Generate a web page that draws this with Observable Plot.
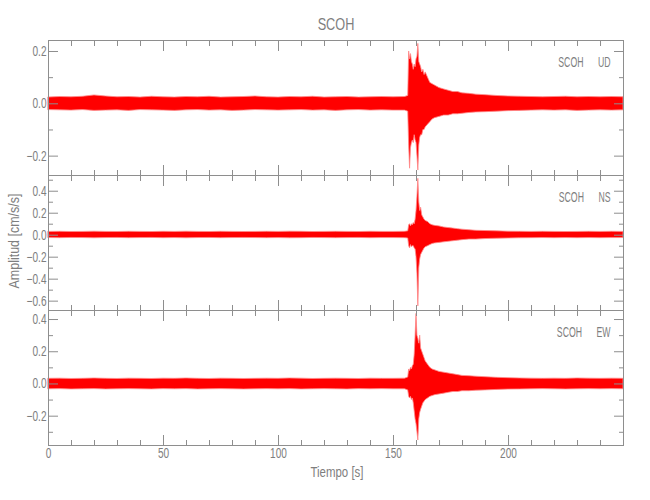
<!DOCTYPE html>
<html><head><meta charset="utf-8">
<script src="https://cdn.jsdelivr.net/npm/d3@7"></script>
<script src="https://cdn.jsdelivr.net/npm/@observablehq/plot@0.6"></script>
<style>
body{margin:0;background:#fff;}
#wrap{position:relative;width:650px;height:500px;overflow:hidden;font-family:"Liberation Sans",Arial,sans-serif;color:#7e7e7e;}
#wrap svg{position:absolute;left:0;top:0;}
.lbl{position:absolute;white-space:nowrap;line-height:1;}
</style></head><body><div id="wrap"></div>
<script>
// ---- data (envelope of the records) ----
const station = "SCOH";
const components = ["UD", "NS", "EW"];
const T = [0,5,10,15,20,25,30,35,40,45,50,55,60,65,70,75,80,85,90,95,100,105,110,115,120,125,130,135,140,145,150,
155,156.4,156.8,157.2,157.6,158,158.4,158.8,159.2,159.6,160,160.4,160.8,161.2,161.6,162,
162.5,163,163.5,164,165,166,167,168,170,172,174,176,178,180,183,186,190,195,
200,205,210,215,220,225,230,235,240,245,249.99];

const UD_hi = [0.024,0.026,0.025,0.027,0.032,0.028,0.025,0.026,0.024,0.027,0.025,0.024,0.026,0.025,0.027,0.024,0.025,0.026,0.028,0.025,0.024,0.026,0.025,0.027,0.024,0.025,0.026,0.024,0.025,0.026,0.025,
0.026,
0.03,0.20,0.17,0.19,0.16,0.15,0.13,0.15,0.14,0.17,0.18,0.229,0.16,0.15,0.14,
0.12,0.13,0.11,0.12,0.10,0.08,0.075,0.07,0.06,0.055,0.05,0.045,0.045,0.04,0.038,0.035,0.033,0.03,
0.028,0.027,0.026,0.025,0.026,0.027,0.025,0.026,0.025,0.026,0.025];
const UD_lo = [-0.024,-0.025,-0.026,-0.024,-0.027,-0.026,-0.025,-0.027,-0.024,-0.025,-0.026,-0.027,-0.025,-0.024,-0.026,-0.025,-0.027,-0.026,-0.024,-0.025,-0.026,-0.025,-0.024,-0.026,-0.025,-0.027,-0.025,-0.024,-0.026,-0.025,-0.026,
-0.026,
-0.03,-0.16,-0.248,-0.17,-0.15,-0.14,-0.15,-0.12,-0.14,-0.15,-0.20,-0.255,-0.16,-0.13,-0.12,
-0.12,-0.10,-0.10,-0.09,-0.08,-0.07,-0.06,-0.055,-0.05,-0.045,-0.045,-0.04,-0.04,-0.038,-0.035,-0.033,-0.032,-0.03,
-0.028,-0.027,-0.026,-0.025,-0.026,-0.025,-0.027,-0.026,-0.025,-0.026,-0.025];

const NS_hi = [0.030,0.031,0.029,0.030,0.032,0.030,0.029,0.031,0.030,0.029,0.031,0.030,0.032,0.030,0.029,0.031,0.030,0.029,0.030,0.031,0.030,0.032,0.031,0.029,0.030,0.031,0.030,0.029,0.031,0.030,0.030,
0.031,
0.035,0.09,0.10,0.08,0.10,0.09,0.11,0.10,0.14,0.22,0.35,0.513,0.30,0.22,0.25,
0.18,0.16,0.14,0.13,0.12,0.10,0.09,0.085,0.08,0.07,0.065,0.06,0.055,0.05,0.045,0.04,0.038,0.035,
0.032,0.031,0.030,0.031,0.030,0.029,0.030,0.031,0.030,0.031,0.030];
const NS_lo = [-0.026,-0.027,-0.025,-0.026,-0.028,-0.026,-0.025,-0.027,-0.026,-0.025,-0.027,-0.026,-0.028,-0.026,-0.025,-0.027,-0.026,-0.025,-0.026,-0.027,-0.026,-0.028,-0.027,-0.025,-0.026,-0.027,-0.026,-0.025,-0.027,-0.026,-0.026,
-0.027,
-0.03,-0.10,-0.12,-0.09,-0.11,-0.10,-0.10,-0.12,-0.13,-0.20,-0.35,-0.648,-0.30,-0.22,-0.18,
-0.16,-0.14,-0.12,-0.11,-0.10,-0.09,-0.08,-0.075,-0.07,-0.065,-0.06,-0.055,-0.05,-0.045,-0.04,-0.04,-0.035,-0.032,
-0.03,-0.028,-0.027,-0.026,-0.027,-0.026,-0.027,-0.026,-0.027,-0.026,-0.026];

const EW_hi = [0.032,0.033,0.031,0.032,0.034,0.032,0.031,0.033,0.032,0.031,0.033,0.032,0.034,0.032,0.031,0.033,0.032,0.031,0.032,0.033,0.032,0.034,0.033,0.031,0.032,0.033,0.032,0.031,0.033,0.032,0.032,
0.033,
0.04,0.09,0.08,0.10,0.09,0.11,0.12,0.18,0.30,0.435,0.30,0.28,0.25,0.30,0.22,
0.20,0.18,0.16,0.14,0.12,0.10,0.09,0.085,0.075,0.07,0.065,0.06,0.055,0.05,0.048,0.045,0.042,0.038,
0.036,0.034,0.033,0.032,0.033,0.032,0.034,0.033,0.032,0.033,0.032];
const EW_lo = [-0.033,-0.032,-0.034,-0.033,-0.032,-0.034,-0.033,-0.032,-0.033,-0.034,-0.032,-0.033,-0.032,-0.034,-0.033,-0.032,-0.033,-0.034,-0.033,-0.032,-0.033,-0.032,-0.034,-0.033,-0.032,-0.033,-0.034,-0.032,-0.033,-0.032,-0.033,
-0.033,
-0.04,-0.08,-0.09,-0.08,-0.10,-0.09,-0.12,-0.17,-0.22,-0.25,-0.30,-0.351,-0.22,-0.18,-0.16,
-0.14,-0.12,-0.11,-0.10,-0.09,-0.08,-0.075,-0.07,-0.065,-0.06,-0.055,-0.05,-0.05,-0.045,-0.045,-0.042,-0.04,-0.037,
-0.035,-0.034,-0.033,-0.032,-0.033,-0.034,-0.033,-0.032,-0.033,-0.032,-0.033];

const xDomain = [0, 249.99];
const xMajor = [0, 50, 100, 150, 200];
const xMinor = [10,20,30,40,60,70,80,90,110,120,130,140,160,170,180,190,210,220,230,240];

const UD_domain = [-0.274, 0.242];
const NS_domain = [-0.685, 0.543];
const EW_domain = [-0.382, 0.456];
const UD_major = [-0.2, 0, 0.2], UD_minor = [-0.1, 0.1];
const NS_major = [-0.6, -0.4, -0.2, 0, 0.2, 0.4], NS_minor = [-0.5, -0.3, -0.1, 0.1, 0.3, 0.5];
const EW_major = [-0.2, 0, 0.2, 0.4], EW_minor = [-0.3, -0.1, 0.1, 0.3];

const titleText = "SCOH";
const yLabelText = "Amplitud [cm/s/s]";
const xLabelText = "Tiempo [s]";

// ---- drawing ----
const RED = "#ff0000", PINK = "#ff8a8a", AX = "#8e8e8e", TX = "#7e7e7e";
const FONT = '"Liberation Sans",Arial,sans-serif';
const GAP = "\u00a0\u00a0\u00a0\u00a0\u00a0\u00a0";
const fmt = d => (Math.abs(d) < 1e-9 ? "0.0" : d.toFixed(1).replace("-", "\u2212"));

function rows(hi, lo) { return T.map((t, i) => ({t, hi: hi[i], lo: lo[i]})); }

function panel(o) {
  const marks = [
    Plot.areaY(rows(o.hi, o.lo), {x: "t", y1: "lo", y2: "hi", fill: RED, stroke: PINK, strokeWidth: 0.8}),
    Plot.frame({stroke: AX}),
  ];
  for (const anchor of ["left", "right"]) {
    marks.push(Plot.axisY({anchor, ticks: o.major, tickSize: -10, tickFormat: () => "", stroke: AX, label: null}));
    marks.push(Plot.axisY({anchor, ticks: o.minor, tickSize: -5, tickFormat: () => "", stroke: AX, label: null}));
  }
  for (const anchor of ["top", "bottom"]) {
    marks.push(Plot.axisX({anchor, ticks: xMajor, tickSize: -10, tickFormat: () => "", stroke: AX, label: null}));
    marks.push(Plot.axisX({anchor, ticks: xMinor, tickSize: -5, tickFormat: () => "", stroke: AX, label: null}));
  }
  marks.push(Plot.axisY({anchor: "left", ticks: o.major, tickSize: 0, tickPadding: 2, tickFormat: fmt, fill: TX, fontSize: 14, label: null}));
  if (o.xLabels) marks.push(Plot.axisX({anchor: "bottom", ticks: xMajor, tickSize: 0, tickPadding: 3, tickFormat: d => String(d), fill: TX, fontSize: 14, label: null}));
  marks.push(Plot.text([station + GAP + o.comp], {frameAnchor: "top-right", dx: -13, dy: 21.5, textAnchor: "end", lineAnchor: "middle", fill: TX, fontSize: 15}));
  return Plot.plot({
    width: 650, height: 500,
    marginLeft: 48, marginRight: 27, marginTop: o.top, marginBottom: 500 - o.bottom,
    x: {domain: xDomain, axis: null},
    y: {domain: o.domain, axis: null},
    style: {background: "transparent", fontFamily: FONT, overflow: "visible"},
    marks
  });
}

// squeeze text horizontally (the original uses a narrow stroke font)
function squeeze(svg, selector, k) {
  svg.querySelectorAll(selector).forEach(t => {
    const L = t.getComputedTextLength();
    if (L > 0) { t.setAttribute("textLength", (L * k).toFixed(2)); t.setAttribute("lengthAdjust", "spacingAndGlyphs"); }
  });
}

const wrap = document.getElementById("wrap");
const panels = [
  panel({hi: UD_hi, lo: UD_lo, domain: UD_domain, major: UD_major, minor: UD_minor, comp: components[0], top: 40, bottom: 175}),
  panel({hi: NS_hi, lo: NS_lo, domain: NS_domain, major: NS_major, minor: NS_minor, comp: components[1], top: 175, bottom: 310}),
  panel({hi: EW_hi, lo: EW_lo, domain: EW_domain, major: EW_major, minor: EW_minor, comp: components[2], top: 310, bottom: 445, xLabels: true})
];
for (const p of panels) {
  wrap.append(p);
  squeeze(p, 'g[aria-label="y-axis tick label"] text', 0.72);
  squeeze(p, 'g[aria-label="x-axis tick label"] text', 0.72);
  squeeze(p, 'g[aria-label="text"] text', 0.58);
}

function label(text, css, targetWidth, rotate) {
  const d = document.createElement("div");
  d.className = "lbl"; d.textContent = text;
  Object.assign(d.style, css);
  wrap.append(d);
  const k = targetWidth / d.getBoundingClientRect().width;
  d.style.transform = rotate
    ? `translate(-50%,-50%) rotate(-90deg) scaleX(${k})`
    : `translateX(-50%) scaleX(${k})`;
}
label(titleText, {left: "335.5px", top: "16px", fontSize: "16.5px"}, 36.7, false);
label(xLabelText, {left: "336.5px", top: "465px", fontSize: "14.5px"}, 53, false);
label(yLabelText, {left: "14px", top: "240.5px", fontSize: "14.5px"}, 95, true);
</script></body></html>
